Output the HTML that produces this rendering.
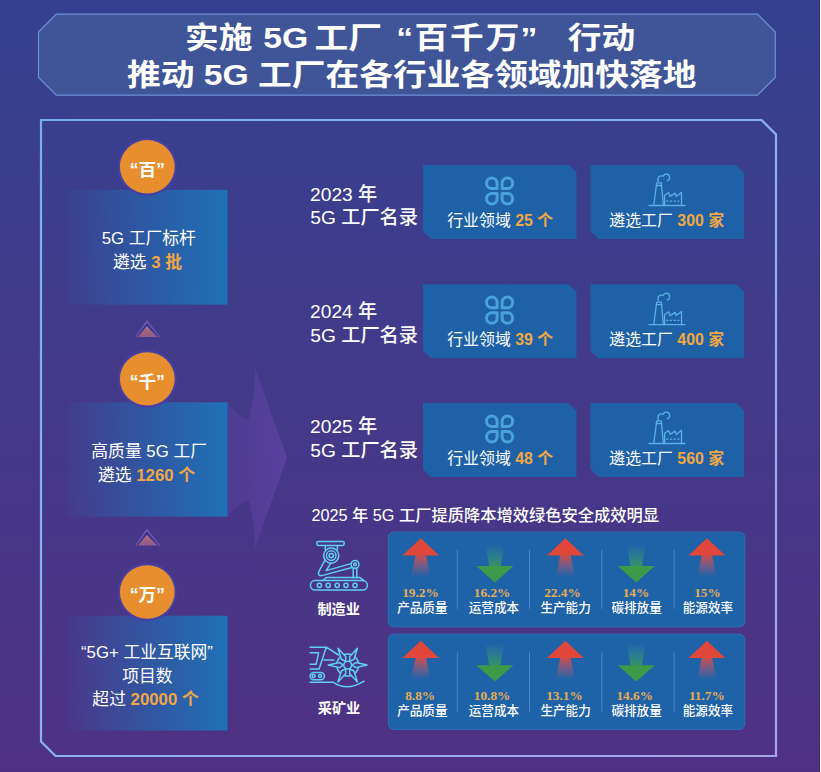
<!DOCTYPE html>
<html lang="zh-CN">
<head>
<meta charset="utf-8">
<title>实施 5G 工厂“百千万”行动</title>
<style>
html,body{margin:0;padding:0;background:#3f3a8f;font-family:"Liberation Sans",sans-serif;}
svg{display:block}
svg text{font-family:"Liberation Sans","Noto Sans CJK SC",sans-serif;}
svg text.pct{font-family:"Liberation Serif","Noto Serif CJK SC",serif;font-weight:bold;}
</style>
</head>
<body>
<svg width="821" height="772" viewBox="0 0 821 772" role="img">
<defs>
<linearGradient id="bg" x1="0" y1="0" x2="0" y2="1"><stop offset="0" stop-color="#344190"/><stop offset=".45" stop-color="#423a8a"/><stop offset="1" stop-color="#4f3184"/></linearGradient>
<linearGradient id="pb" x1="0" y1="0" x2="1" y2="1"><stop offset="0" stop-color="#78aeef"/><stop offset=".45" stop-color="#88b4ee"/><stop offset="1" stop-color="#a8a2e6"/></linearGradient>
<linearGradient id="lbox" x1="0" y1="0" x2="1" y2="0"><stop offset="0" stop-color="#2076bc" stop-opacity=".05"/><stop offset=".5" stop-color="#2070b6" stop-opacity=".56"/><stop offset="1" stop-color="#1e71b6"/></linearGradient>
<linearGradient id="chev" x1="0" y1="0" x2="0" y2="1"><stop offset="0" stop-color="#b07a98"/><stop offset=".4" stop-color="#a4647e"/><stop offset="1" stop-color="#8f5a8c"/></linearGradient>
<linearGradient id="bigarrow" gradientUnits="userSpaceOnUse" x1="228" y1="0" x2="287" y2="0"><stop offset="0" stop-color="#7850c4" stop-opacity=".15"/><stop offset="1" stop-color="#7850c4" stop-opacity=".38"/></linearGradient>
<linearGradient id="ured" x1="0" y1="0" x2="0" y2="1"><stop offset="0" stop-color="#de4a44" stop-opacity=".92"/><stop offset="1" stop-color="#c8607a" stop-opacity="0"/></linearGradient>
<linearGradient id="dgreen" x1="0" y1="1" x2="0" y2="0"><stop offset="0" stop-color="#3a9a58" stop-opacity=".85"/><stop offset="1" stop-color="#3a9c90" stop-opacity="0"/></linearGradient>
</defs>
<rect width="821" height="772" fill="url(#bg)"/>
<rect x="819" y="0" width="1" height="772" fill="#1e1a50" opacity=".3"/><rect x="820" y="0" width="1" height="772" fill="#fbf8ff"/>
<polygon points="38.5,32 56.3,14.2 757.5,14.2 775.3,32 775.3,77.4 757.5,95.2 56.3,95.2 38.5,77.4" fill="#405597" stroke="#6d90d6" stroke-width="1.2"/>
<polygon points="41,120 761.5,120 776,134.5 776,756 55.5,756 41,741.5" fill="none" stroke="url(#pb)" stroke-width="2.2"/>
<path d="M227.5 401.5Q238 417 248.5 419.8Q254.6 400 255.1 368.3L286.9 457.5L255.1 548.2Q254.6 520 248.5 499.5Q238 503 227.5 517.5Z" fill="url(#bigarrow)"/>
<rect x="66.5" y="189.8" width="161" height="114.8" fill="url(#lbox)"/>
<rect x="66.5" y="402.3" width="161" height="114.3" fill="url(#lbox)"/>
<rect x="66.5" y="615.7" width="161" height="114.8" fill="url(#lbox)"/>
<path d="M136.1 337L146.9 321.4L159.4 337" fill="none" stroke="#6a5ab4" stroke-width="1.7" stroke-linejoin="miter"/>
<path d="M137.3 336.6L146.9 324.1L157.9 336.6" fill="none" stroke="#35318a" stroke-width="1.5" opacity=".8"/>
<path d="M146.9 326.3L157.5 336.9L137.7 336.9Z" fill="url(#chev)"/>
<path d="M136.1 545.6L146.9 530L159.4 545.6" fill="none" stroke="#6a5ab4" stroke-width="1.7" stroke-linejoin="miter"/>
<path d="M137.3 545.2L146.9 532.7L157.9 545.2" fill="none" stroke="#35318a" stroke-width="1.5" opacity=".8"/>
<path d="M146.9 534.9L157.5 545.5L137.7 545.5Z" fill="url(#chev)"/>
<ellipse cx="147.3" cy="166.8" rx="29.6" ry="29" fill="#463fa4"/><ellipse cx="147.3" cy="166.8" rx="27.4" ry="26.7" fill="#e78f2e"/>
<ellipse cx="147.3" cy="378.9" rx="29.6" ry="29" fill="#463fa4"/><ellipse cx="147.3" cy="378.9" rx="27.4" ry="26.7" fill="#e78f2e"/>
<ellipse cx="147.3" cy="592" rx="29.6" ry="29" fill="#463fa4"/><ellipse cx="147.3" cy="592" rx="27.4" ry="26.7" fill="#e78f2e"/>
<polygon points="423,165 568.8,165 576.6,172.8 576.6,239.1 430.8,239.1 423,231.3" fill="#1e61a6"/>
<polygon points="590.4,165 736.2,165 744,172.8 744,239.1 598.2,239.1 590.4,231.3" fill="#1e61a6"/>
<polygon points="423,284.2 568.8,284.2 576.6,292 576.6,358.3 430.8,358.3 423,350.5" fill="#1e61a6"/>
<polygon points="590.4,284.2 736.2,284.2 744,292 744,358.3 598.2,358.3 590.4,350.5" fill="#1e61a6"/>
<polygon points="423,403 568.8,403 576.6,410.8 576.6,477.1 430.8,477.1 423,469.3" fill="#1e61a6"/>
<polygon points="590.4,403 736.2,403 744,410.8 744,477.1 598.2,477.1 590.4,469.3" fill="#1e61a6"/>
<path d="M497.1 188.5L491.8 188.5A5.3 5.3 0 1 1 497.1 183.2ZM502.1 188.5L507.4 188.5A5.3 5.3 0 1 0 502.1 183.2ZM502.1 193.5L507.4 193.5A5.3 5.3 0 1 1 502.1 198.8ZM497.1 193.5L491.8 193.5A5.3 5.3 0 1 0 497.1 198.8Z" fill="none" stroke="#4aa2d8" stroke-width="3" stroke-linejoin="round"/>
<g transform="translate(649 205.5)" fill="none" stroke="#5ab0e2" stroke-width="1.3" stroke-linecap="round" stroke-linejoin="round"><path d="M0 0H36"/><path d="M4.75 0L7.7 -22.6H12.3L14.4 0"/><path d="M7.4 -20H12.6"/><path d="M9.2 -24C8 -28.5 10.8 -30.2 14.2 -29.3C15.2 -32.4 20.2 -32.3 20.6 -28.4C20.8 -26.4 19.6 -25 18.4 -24.9"/><path d="M15.6 0V-10.2L19.7 -12.9L21.1 -9.1L26.1 -12.4L27.2 -9.1L32.5 -13.2V0"/><path d="M17.2 -4.4H30.4" stroke-dasharray="2.3 1.4" stroke-linecap="butt"/></g>
<path d="M497.1 307.7L491.8 307.7A5.3 5.3 0 1 1 497.1 302.4ZM502.1 307.7L507.4 307.7A5.3 5.3 0 1 0 502.1 302.4ZM502.1 312.7L507.4 312.7A5.3 5.3 0 1 1 502.1 318ZM497.1 312.7L491.8 312.7A5.3 5.3 0 1 0 497.1 318Z" fill="none" stroke="#4aa2d8" stroke-width="3" stroke-linejoin="round"/>
<g transform="translate(649 324.7)" fill="none" stroke="#5ab0e2" stroke-width="1.3" stroke-linecap="round" stroke-linejoin="round"><path d="M0 0H36"/><path d="M4.75 0L7.7 -22.6H12.3L14.4 0"/><path d="M7.4 -20H12.6"/><path d="M9.2 -24C8 -28.5 10.8 -30.2 14.2 -29.3C15.2 -32.4 20.2 -32.3 20.6 -28.4C20.8 -26.4 19.6 -25 18.4 -24.9"/><path d="M15.6 0V-10.2L19.7 -12.9L21.1 -9.1L26.1 -12.4L27.2 -9.1L32.5 -13.2V0"/><path d="M17.2 -4.4H30.4" stroke-dasharray="2.3 1.4" stroke-linecap="butt"/></g>
<path d="M497.1 426.5L491.8 426.5A5.3 5.3 0 1 1 497.1 421.2ZM502.1 426.5L507.4 426.5A5.3 5.3 0 1 0 502.1 421.2ZM502.1 431.5L507.4 431.5A5.3 5.3 0 1 1 502.1 436.8ZM497.1 431.5L491.8 431.5A5.3 5.3 0 1 0 497.1 436.8Z" fill="none" stroke="#4aa2d8" stroke-width="3" stroke-linejoin="round"/>
<g transform="translate(649 443.5)" fill="none" stroke="#5ab0e2" stroke-width="1.3" stroke-linecap="round" stroke-linejoin="round"><path d="M0 0H36"/><path d="M4.75 0L7.7 -22.6H12.3L14.4 0"/><path d="M7.4 -20H12.6"/><path d="M9.2 -24C8 -28.5 10.8 -30.2 14.2 -29.3C15.2 -32.4 20.2 -32.3 20.6 -28.4C20.8 -26.4 19.6 -25 18.4 -24.9"/><path d="M15.6 0V-10.2L19.7 -12.9L21.1 -9.1L26.1 -12.4L27.2 -9.1L32.5 -13.2V0"/><path d="M17.2 -4.4H30.4" stroke-dasharray="2.3 1.4" stroke-linecap="butt"/></g>
<rect x="388.4" y="532" width="356.4" height="94.8" rx="5.5" fill="#1e62a8" stroke="#2d69b0" stroke-width="1.2"/>
<rect x="388.4" y="634.2" width="356.4" height="95.2" rx="5.5" fill="#1e62a8" stroke="#2d69b0" stroke-width="1.2"/>
<rect x="456.8" y="549.8" width="1" height="59" fill="#5f8fcc" opacity=".8"/>
<rect x="529" y="549.8" width="1" height="59" fill="#5f8fcc" opacity=".8"/>
<rect x="601.3" y="549.8" width="1" height="59" fill="#5f8fcc" opacity=".8"/>
<rect x="673.6" y="549.8" width="1" height="59" fill="#5f8fcc" opacity=".8"/>
<path d="M415.6 555.2L426 555.2L430.4 576.8L411.2 576.8Z" fill="url(#ured)"/><path d="M420.8 538.3L439.2 555.5H402.4Z" fill="#e1463a"/>
<path d="M560.2 555.2L570.6 555.2L575 576.8L555.8 576.8Z" fill="url(#ured)"/><path d="M565.4 538.3L583.8 555.5H547Z" fill="#e1463a"/>
<path d="M701.7 555.2L712.1 555.2L716.5 576.8L697.3 576.8Z" fill="url(#ured)"/><path d="M706.9 538.3L725.3 555.5H688.5Z" fill="#e1463a"/>
<path d="M489.2 566.4L500.6 566.4L504.3 543.9L485.5 543.9Z" fill="url(#dgreen)"/><path d="M494.9 582.4L513.5 566.1H476.3Z" fill="#3b9b48"/>
<path d="M630.5 566.4L641.9 566.4L645.6 543.9L626.8 543.9Z" fill="url(#dgreen)"/><path d="M636.2 582.4L654.8 566.1H617.6Z" fill="#3b9b48"/>
<rect x="456.8" y="652.5" width="1" height="59" fill="#5f8fcc" opacity=".8"/>
<rect x="529" y="652.5" width="1" height="59" fill="#5f8fcc" opacity=".8"/>
<rect x="601.3" y="652.5" width="1" height="59" fill="#5f8fcc" opacity=".8"/>
<rect x="673.6" y="652.5" width="1" height="59" fill="#5f8fcc" opacity=".8"/>
<path d="M415.6 657.7L426 657.7L430.4 679.3L411.2 679.3Z" fill="url(#ured)"/><path d="M420.8 640.8L439.2 658H402.4Z" fill="#e1463a"/>
<path d="M560.2 657.7L570.6 657.7L575 679.3L555.8 679.3Z" fill="url(#ured)"/><path d="M565.4 640.8L583.8 658H547Z" fill="#e1463a"/>
<path d="M701.7 657.7L712.1 657.7L716.5 679.3L697.3 679.3Z" fill="url(#ured)"/><path d="M706.9 640.8L725.3 658H688.5Z" fill="#e1463a"/>
<path d="M489.2 665.5L500.6 665.5L504.3 643L485.5 643Z" fill="url(#dgreen)"/><path d="M494.9 681.5L513.5 665.2H476.3Z" fill="#3b9b48"/>
<path d="M630.5 665.5L641.9 665.5L645.6 643L626.8 643Z" fill="url(#dgreen)"/><path d="M636.2 681.5L654.8 665.2H617.6Z" fill="#3b9b48"/>
<g fill="none" stroke="#5fd0ee" stroke-width="1.5" stroke-linecap="round" stroke-linejoin="round">
<rect x="316.8" y="541.4" width="27.4" height="4" rx="1.6"/>
<path d="M325.3 545.4V549.5M337.4 545.4V549.5"/>
<circle cx="331.2" cy="555.6" r="7.6"/><circle cx="331.2" cy="555.6" r="4.8"/><circle cx="331.2" cy="555.6" r="2.2"/>
<path d="M325 560L318.6 572.2Q317.8 576 321.8 575.6L352 567.5M330.8 563.2L326.2 570.6L351 563.6"/>
<circle cx="355" cy="564.4" r="3.9"/><circle cx="355" cy="564.4" r="1.3"/>
<path d="M353.2 568V578M356.8 568V578"/>
<path d="M322.5 580.6L326.5 577.6H360L364 580.6"/>
<rect x="310.4" y="580.6" width="57" height="9.4" rx="4.7"/>
<circle cx="319.4" cy="585.3" r="2.1"/>
<circle cx="328.2" cy="585.3" r="2.1"/>
<circle cx="337.2" cy="585.3" r="2.1"/>
<circle cx="346" cy="585.3" r="2.1"/>
<circle cx="355" cy="585.3" r="2.1"/>
<path d="M310.1 647.2H326.3L338.5 655M310.1 652.8H318.6L316.1 664.3H310.1M326.3 647.2L319.1 669H310.1M324 660H334"/>
<rect x="310.1" y="672.4" width="14.3" height="7.3" rx="3.65"/><circle cx="313.6" cy="676.05" r="1.5"/><circle cx="320" cy="676.05" r="1.5"/>
<path d="M310.1 682.2H333Q347 692 364 681.2"/>
<circle cx="347.7" cy="665.1" r="11"/>
<path d="M351.9 665.1L355.92 662.59L367.1 665.1L355.92 667.61ZM349.8 668.74L353.99 670.97L357.4 681.9L349.63 673.48ZM345.6 668.74L345.77 673.48L338 681.9L341.41 670.97ZM343.5 665.1L339.48 667.61L328.3 665.1L339.48 662.59ZM345.6 661.46L341.41 659.23L338 648.3L345.77 656.72ZM349.8 661.46L349.63 656.72L357.4 648.3L353.99 659.23Z" fill="#4a3590"/>
<circle cx="347.7" cy="665.1" r="3.9" fill="#4a3590"/>
</g>
<g fill="#ffffff" font-weight="bold" font-size="29.6">
<text transform="translate(185.07 47.6) scale(1.14 1)">实施</text>
<text transform="translate(263.16 47.6) scale(1.14 1)">5G</text>
<text transform="translate(314.42 47.6) scale(1.14 1)">工厂</text>
<text transform="translate(413 47.6) scale(1.14 1)" text-anchor="end">“</text>
<text transform="translate(414.38 47.6) scale(1.14 1)" letter-spacing="1.7">百千万</text>
<text transform="translate(520.5 47.6) scale(1.14 1)">”</text>
<text transform="translate(567.66 47.6) scale(1.14 1)">行动</text>
<text transform="translate(126.92 85.1) scale(1.14 1)">推动 5G 工厂在各行业各领域加快落地</text>
</g>
<g fill="#ffffff" font-weight="bold" font-size="17.6" text-anchor="middle">
<text x="147.3" y="175.6">“百”</text>
<text x="147.3" y="387.7">“千”</text>
<text x="147.3" y="600.8">“万”</text>
</g>
<g fill="#ffffff" font-size="16.8">
<text x="101.64" y="244">5G 工厂标杆</text>
<text x="113.06" y="267.6">遴选 <tspan fill="#f0a745" font-weight="bold">3 批</tspan></text>
<text x="91.34" y="457.4">高质量 5G 工厂</text>
<text x="98.06" y="481">遴选 <tspan fill="#f0a745" font-weight="bold">1260 个</tspan></text>
<text x="147" y="658.3" text-anchor="middle">“5G+ 工业互联网”</text>
<text x="122.29" y="682">项目数</text>
<text x="92.35" y="705.4">超过 <tspan fill="#f0a745" font-weight="bold">20000 个</tspan></text>
</g>
<g fill="#ffffff" font-size="19.2" font-weight="500">
<text x="310.07" y="201">2023 年</text>
<text x="310.28" y="224.4">5G 工厂名录</text>
<text x="310.07" y="318.3">2024 年</text>
<text x="310.28" y="341.7">5G 工厂名录</text>
<text x="310.07" y="433.3">2025 年</text>
<text x="310.28" y="456.7">5G 工厂名录</text>
</g>
<g fill="#ffffff" font-size="15.9">
<text x="447.22" y="226">行业领域 <tspan fill="#f0a745" font-weight="bold">25 个</tspan></text>
<text x="609.35" y="226">遴选工厂 <tspan fill="#f0a745" font-weight="bold">300 家</tspan></text>
<text x="447.22" y="345.2">行业领域 <tspan fill="#f0a745" font-weight="bold">39 个</tspan></text>
<text x="609.35" y="345.2">遴选工厂 <tspan fill="#f0a745" font-weight="bold">400 家</tspan></text>
<text x="447.22" y="464">行业领域 <tspan fill="#f0a745" font-weight="bold">48 个</tspan></text>
<text x="609.35" y="464">遴选工厂 <tspan fill="#f0a745" font-weight="bold">560 家</tspan></text>
</g>
<text x="311.38" y="520.7" fill="#ffffff" font-size="16.25" font-weight="500">2025 年 5G 工厂提质降本增效绿色安全成效明显</text>
<text x="317.4" y="614.3" fill="#ffffff" font-size="14.2" font-weight="bold">制造业</text>
<text x="317.7" y="713.3" fill="#ffffff" font-size="14.2" font-weight="bold">采矿业</text>
<g fill="#e6ad55" font-size="13.3">
<text class="pct" x="402.18" y="597.2">19.2%</text>
<text class="pct" x="473.79" y="597.2">16.2%</text>
<text class="pct" x="544.13" y="597.2">22.4%</text>
<text class="pct" x="622.73" y="597.2">14%</text>
<text class="pct" x="694.23" y="597.2">15%</text>
<text class="pct" x="405.22" y="700.1">8.8%</text>
<text class="pct" x="473.8" y="700.1">10.8%</text>
<text class="pct" x="546.19" y="700.1">13.1%</text>
<text class="pct" x="616.4" y="700.1">14.6%</text>
<text class="pct" x="688.92" y="700.1">11.7%</text>
</g>
<g fill="#ffffff" font-size="12.6" font-weight="500">
<text x="397.18" y="612.2">产品质量</text>
<text x="468.7" y="612.2">运营成本</text>
<text x="540.38" y="612.2">生产能力</text>
<text x="611.41" y="612.2">碳排放量</text>
<text x="682.76" y="612.2">能源效率</text>
<text x="397.18" y="715.1">产品质量</text>
<text x="468.7" y="715.1">运营成本</text>
<text x="540.38" y="715.1">生产能力</text>
<text x="611.41" y="715.1">碳排放量</text>
<text x="682.76" y="715.1">能源效率</text>
</g>
</svg>
</body>
</html>
